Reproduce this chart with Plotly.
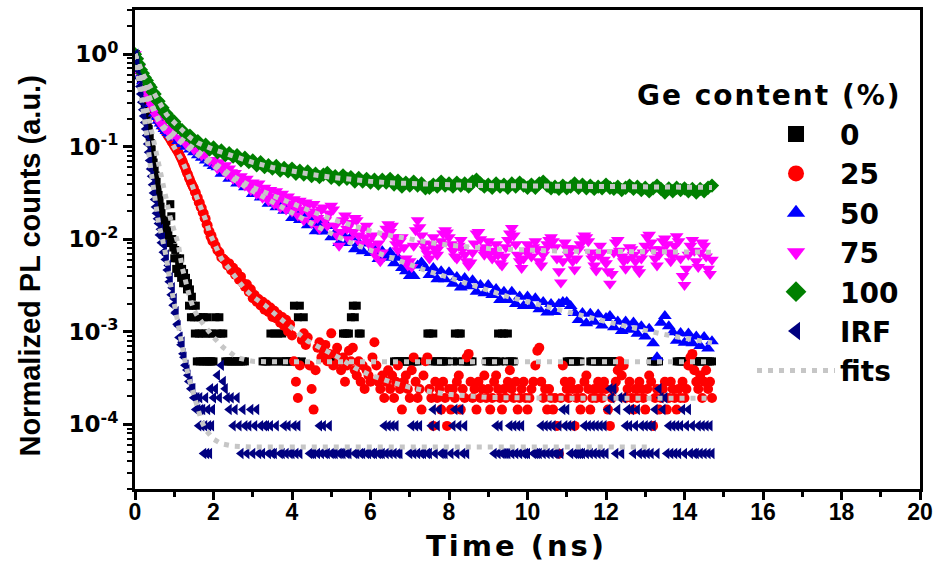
import plotly.graph_objects as go

# ---------------------------------------------------------------------------
# Time bases (ns)
# ---------------------------------------------------------------------------
t_fine = [0.0, 0.025, 0.05, 0.075, 0.1, 0.125, 0.15, 0.175, 0.2, 0.225,
          0.25, 0.275, 0.3, 0.325, 0.35, 0.375, 0.4, 0.425, 0.45, 0.475,
          0.5, 0.525, 0.55, 0.575, 0.6, 0.625, 0.65, 0.675, 0.7, 0.725,
          0.75, 0.775, 0.8, 0.825, 0.85, 0.875, 0.9, 0.925, 0.95, 0.975,
          1.0, 1.025, 1.05, 1.075, 1.1, 1.125, 1.15, 1.175, 1.2, 1.225,
          1.25, 1.275, 1.3, 1.325, 1.35, 1.375, 1.4, 1.425, 1.45, 1.475,
          1.5, 1.525, 1.55, 1.575, 1.6, 1.625, 1.65, 1.675, 1.7, 1.725,
          1.75, 1.775, 1.8, 1.825, 1.85, 1.875, 1.9, 1.925, 1.95, 1.975,
          2.0]
t_coarse = [0.0, 0.05, 0.1, 0.15, 0.2, 0.25, 0.3, 0.35, 0.4, 0.45,
            0.5, 0.55, 0.6, 0.65, 0.7, 0.75, 0.8, 0.85, 0.9, 0.95,
            1.0, 1.1, 1.2, 1.3, 1.4, 1.5, 1.6, 1.7, 1.8, 1.9, 2.0]
t_late = [2.1, 2.2, 2.3, 2.4, 2.5, 2.6, 2.7, 2.8, 2.9, 3.0,
          3.1, 3.2, 3.3, 3.4, 3.5, 3.6, 3.7, 3.8, 3.9, 4.0,
          4.1, 4.2, 4.3, 4.4, 4.5, 4.6, 4.7, 4.8, 4.9, 5.0,
          5.1, 5.2, 5.3, 5.4, 5.5, 5.6, 5.7, 5.8, 5.9, 6.0,
          6.1, 6.2, 6.3, 6.4, 6.5, 6.6, 6.7, 6.8, 6.9, 7.0,
          7.1, 7.2, 7.3, 7.4, 7.5, 7.6, 7.7, 7.8, 7.9, 8.0,
          8.1, 8.2, 8.3, 8.4, 8.5, 8.6, 8.7, 8.8, 8.9, 9.0,
          9.1, 9.2, 9.3, 9.4, 9.5, 9.6, 9.7, 9.8, 9.9, 10.0,
          10.1, 10.2, 10.3, 10.4, 10.5, 10.6, 10.7, 10.8, 10.9, 11.0,
          11.1, 11.2, 11.3, 11.4, 11.5, 11.6, 11.7, 11.8, 11.9, 12.0,
          12.1, 12.2, 12.3, 12.4, 12.5, 12.6, 12.7, 12.8, 12.9, 13.0,
          13.1, 13.2, 13.3, 13.4, 13.5, 13.6, 13.7, 13.8, 13.9, 14.0,
          14.1, 14.2, 14.3, 14.4, 14.5, 14.6, 14.7]
t_late_fine = [
    2.05, 2.1, 2.15, 2.2, 2.25, 2.3, 2.35, 2.4, 2.45, 2.5, 2.55, 2.6, 2.65, 2.7, 2.75, 2.8, 2.85, 2.9, 2.95, 3.0,
    3.05, 3.1, 3.15, 3.2, 3.25, 3.3, 3.35, 3.4, 3.45, 3.5, 3.55, 3.6, 3.65, 3.7, 3.75, 3.8, 3.85, 3.9, 3.95, 4.0,
    4.05, 4.1, 4.15, 4.2, 4.25, 4.3, 4.35, 4.4, 4.45, 4.5, 4.55, 4.6, 4.65, 4.7, 4.75, 4.8, 4.85, 4.9, 4.95, 5.0,
    5.05, 5.1, 5.15, 5.2, 5.25, 5.3, 5.35, 5.4, 5.45, 5.5, 5.55, 5.6, 5.65, 5.7, 5.75, 5.8, 5.85, 5.9, 5.95, 6.0,
    6.05, 6.1, 6.15, 6.2, 6.25, 6.3, 6.35, 6.4, 6.45, 6.5, 6.55, 6.6, 6.65, 6.7, 6.75, 6.8, 6.85, 6.9, 6.95, 7.0,
    7.05, 7.1, 7.15, 7.2, 7.25, 7.3, 7.35, 7.4, 7.45, 7.5, 7.55, 7.6, 7.65, 7.7, 7.75, 7.8, 7.85, 7.9, 7.95, 8.0,
    8.05, 8.1, 8.15, 8.2, 8.25, 8.3, 8.35, 8.4, 8.45, 8.5, 8.55, 8.6, 8.65, 8.7, 8.75, 8.8, 8.85, 8.9, 8.95, 9.0,
    9.05, 9.1, 9.15, 9.2, 9.25, 9.3, 9.35, 9.4, 9.45, 9.5, 9.55, 9.6, 9.65, 9.7, 9.75, 9.8, 9.85, 9.9, 9.95, 10.0,
    10.05, 10.1, 10.15, 10.2, 10.25, 10.3, 10.35, 10.4, 10.45, 10.5, 10.55, 10.6, 10.65, 10.7, 10.75, 10.8, 10.85, 10.9, 10.95, 11.0,
    11.05, 11.1, 11.15, 11.2, 11.25, 11.3, 11.35, 11.4, 11.45, 11.5, 11.55, 11.6, 11.65, 11.7, 11.75, 11.8, 11.85, 11.9, 11.95, 12.0,
    12.05, 12.1, 12.15, 12.2, 12.25, 12.3, 12.35, 12.4, 12.45, 12.5, 12.55, 12.6, 12.65, 12.7, 12.75, 12.8, 12.85, 12.9, 12.95, 13.0,
    13.05, 13.1, 13.15, 13.2, 13.25, 13.3, 13.35, 13.4, 13.45, 13.5, 13.55, 13.6, 13.65, 13.7, 13.75, 13.8, 13.85, 13.9, 13.95, 14.0,
    14.05, 14.1, 14.15, 14.2, 14.25, 14.3, 14.35, 14.4, 14.45, 14.5, 14.55, 14.6, 14.65, 14.7]

time_counts = t_fine + t_late_fine   # 0 %, 25 % and IRF histograms
time_ge75 = t_coarse + t_late_fine   # 75 % decay
time_slow = t_coarse + t_late        # 50 % and 100 % decays

# ---------------------------------------------------------------------------
# Photon counts (0 %, 25 %, IRF) -- normalised to their peak below
# ---------------------------------------------------------------------------
ge0_counts = [
    1940, 2090, 1780, 1585, 1413, 1260, 1097, 955, 832, 725,
    617, 525, 447, 380, 324, 269, 229, 195, 166, 141,
    120, 102, 87, 74, 63, 55, 47, 40, 34, 29,
    25, 30, 33, 26, 23, 19, 50, 37, 21, 17,
    13, 16, 10, 13, 9, 12, 13, 8, 10, 7,
    9, 7, 8, 6, 7, 4, 6, 3, 5, 4,
    3, 2, 4, 1, 3, 2, 1, 3, 2, 1,
    3, 1, 2, 1, 3, 1, 2, 1, 1, 2,
    1,
    3, 2, 3, 2, 2, 1, 1, 1, 1, 1, 1, 1, 1, 1, 1, 1, 0, 0, 0, 0,
    0, 0, 0, 0, 1, 1, 1, 1, 2, 1, 2, 1, 2, 1, 2, 1, 1, 1, 1, 1,
    4, 1, 3, 4, 1, 3, 0, 0, 0, 0, 0, 0, 0, 0, 0, 0, 0, 0, 0, 1,
    1, 1, 1, 1, 0, 2, 2, 2, 2, 3, 4, 3, 4, 2, 2, 0, 0, 0, 0, 0,
    0, 0, 0, 0, 0, 0, 0, 0, 0, 0, 0, 1, 1, 1, 1, 1, 1, 1, 1, 1,
    1, 1, 1, 1, 0, 0, 0, 0, 2, 2, 1, 2, 1, 1, 1, 1, 1, 1, 1, 0,
    0, 1, 2, 1, 2, 2, 1, 1, 1, 1, 1, 1, 0, 0, 0, 0, 0, 0, 1, 1,
    1, 1, 1, 1, 2, 1, 2, 2, 1, 2, 1, 1, 1, 0, 0, 0, 0, 0, 0, 0,
    0, 0, 0, 0, 0, 0, 0, 0, 0, 0, 0, 0, 0, 0, 0, 0, 0, 0, 0, 1,
    1, 1, 1, 1, 1, 1, 1, 0, 0, 0, 0, 1, 1, 1, 1, 1, 1, 1, 1, 1,
    1, 1, 1, 1, 1, 1, 0, 0, 0, 0, 0, 0, 0, 0, 0, 0, 0, 0, 0, 0,
    0, 0, 1, 1, 1, 1, 1, 0, 0, 0, 0, 0, 0, 0, 0, 1, 1, 1, 1, 1,
    1, 1, 1, 1, 1, 1, 1, 1, 1, 1, 1, 1, 1, 1]

ge25_counts = [
    20800, 19340, 17890, 16430, 15390, 14140, 13310, 12270, 11440, 10610,
    9780, 9150, 8530, 7900, 7280, 6660, 6240, 5820, 5530, 5200,
    4890, 4660, 4390, 4160, 3950, 3790, 3660, 3490, 3370, 3270,
    3140, 3040, 2930, 2810, 2700, 2620, 2500, 2390, 2310, 2230,
    2120, 2060, 1960, 1890, 1810, 1730, 1640, 1560, 1480, 1390,
    1310, 1250, 1160, 1080, 1040, 957, 915, 853, 811, 770,
    740, 672, 660, 590, 585, 520, 515, 462, 452, 405,
    396, 350, 345, 300, 295, 256, 250, 222, 226, 198,
    199,
    178, 158, 150, 132, 128, 122, 108, 114, 96, 102, 86, 92, 76, 82, 70, 64, 68, 56, 60, 48,
    52, 44, 47, 40, 44, 36, 41, 34, 38, 30, 35, 29, 32, 26, 30, 24, 28, 21, 25, 19,
    10, 6, 4, 9, 17, 20, 15, 18, 9, 5, 3, 8, 14, 16, 11, 13, 15, 10, 12, 20,
    9, 12, 14, 10, 8, 11, 6, 9, 13, 10, 14, 8, 7, 10, 6, 9, 5, 8, 7, 6,
    11, 16, 9, 6, 5, 7, 4, 6, 8, 5, 7, 4, 6, 9, 5, 3, 6, 7, 5, 4,
    8, 11, 6, 4, 5, 3, 7, 10, 11, 5, 4, 2, 6, 4, 5, 3, 6, 4, 2, 5,
    3, 5, 4, 6, 7, 3, 5, 4, 11, 12, 6, 4, 5, 3, 6, 4, 5, 7, 4, 5,
    3, 4, 6, 7, 5, 4, 3, 5, 4, 6, 8, 5, 4, 6, 3, 4, 5, 6, 4, 3,
    4, 5, 6, 9, 13, 14, 6, 4, 5, 3, 5, 4, 3, 4, 2, 1, 4, 9, 6, 5,
    4, 6, 5, 2, 4, 5, 3, 4, 6, 7, 5, 3, 4, 5, 4, 6, 5, 4, 6, 5,
    3, 2, 4, 5, 6, 8, 10, 7, 9, 4, 5, 6, 4, 3, 5, 4, 6, 5, 4, 3,
    5, 7, 6, 2, 4, 5, 3, 4, 5, 6, 3, 4, 6, 5, 4, 3, 5, 4, 6, 4,
    5, 9, 11, 12, 8, 6, 5, 7, 4, 6, 8, 5, 6, 4]

irf_counts = [
    18030, 20700, 17220, 14000, 11380, 9250, 7700, 6250, 5200, 4430,
    3770, 3210, 2730, 2220, 1800, 1470, 1190, 990, 805, 655,
    557, 463, 395, 344, 306, 230, 265, 190, 215, 150,
    178, 125, 140, 96, 108, 72, 80, 52, 62, 40,
    47, 33, 34, 25, 24, 18, 18, 15, 16, 12,
    11, 9, 9, 8, 7, 6, 6, 5, 5, 5,
    4, 4, 3, 4, 3, 2, 4, 3, 2, 3,
    1, 2, 4, 1, 3, 2, 1, 5, 2, 3,
    4,
    5, 7, 4, 9, 6, 5, 4, 3, 4, 2, 3, 4, 2, 1, 3, 2, 1, 2, 3, 1,
    2, 3, 1, 2, 1, 2, 2, 1, 2, 1, 1, 2, 0, 1, 1, 2, 1, 2, 1, 1,
    2, 1, 2, 1, 0, 0, 0, 0, 1, 1, 1, 0, 1, 2, 1, 2, 1, 1, 2, 1,
    1, 1, 0, 1, 1, 1, 0, 1, 1, 0, 0, 1, 1, 0, 1, 1, 0, 1, 1, 0,
    1, 1, 0, 1, 1, 1, 2, 1, 2, 1, 2, 1, 2, 1, 1, 0, 0, 0, 0, 1,
    2, 1, 2, 1, 2, 1, 1, 0, 1, 1, 2, 3, 1, 2, 3, 1, 1, 1, 0, 0,
    1, 2, 3, 1, 2, 3, 1, 2, 1, 0, 0, 0, 0, 0, 0, 0, 0, 0, 0, 0,
    0, 0, 1, 2, 1, 2, 1, 1, 1, 1, 2, 1, 2, 1, 2, 1, 2, 1, 1, 1,
    0, 0, 1, 1, 1, 1, 2, 1, 2, 1, 2, 1, 2, 1, 1, 2, 1, 3, 2, 3,
    2, 1, 2, 1, 1, 1, 1, 1, 2, 1, 2, 1, 2, 1, 2, 1, 2, 1, 2, 1,
    3, 5, 4, 5, 1, 3, 4, 1, 4, 2, 3, 2, 3, 1, 2, 3, 1, 2, 1, 2,
    1, 2, 1, 2, 3, 1, 5, 4, 3, 4, 1, 2, 1, 2, 1, 2, 1, 2, 3, 1,
    2, 3, 1, 2, 1, 1, 2, 1, 2, 1, 2, 1, 2, 1]

# ---------------------------------------------------------------------------
# Normalised decays (50 %, 75 %, 100 %)
# ---------------------------------------------------------------------------
ge50_norm = [
    1.0, 0.83, 0.71, 0.60, 0.51, 0.44, 0.38, 0.33, 0.29, 0.257,
    0.229, 0.209, 0.191, 0.178, 0.166, 0.155, 0.148, 0.141, 0.135, 0.129,
    0.126, 0.115, 0.107, 0.100, 0.093, 0.087, 0.081, 0.076, 0.071, 0.066,
    0.062,
    0.060, 0.051, 0.052, 0.045, 0.047, 0.040, 0.0425, 0.0365, 0.0368, 0.0309,
    0.0336, 0.0283, 0.0308, 0.0242, 0.0263, 0.0222, 0.0252, 0.0203, 0.0216, 0.0170,
    0.0199, 0.0161, 0.0188, 0.0142, 0.0155, 0.0122, 0.0150, 0.0121, 0.0139, 0.0105,
    0.0117, 0.0091, 0.0112, 0.0091, 0.0105, 0.0078, 0.0091, 0.0074, 0.0090, 0.0071,
    0.0082, 0.0061, 0.0074, 0.0063, 0.0072, 0.0055, 0.0063, 0.0049, 0.0045, 0.0040,
    0.0040, 0.0052, 0.0056, 0.0049, 0.0041, 0.0049, 0.0037, 0.0045, 0.0037, 0.0044,
    0.0033, 0.0039, 0.0030, 0.0038, 0.0031, 0.0036, 0.0027, 0.0032, 0.0026, 0.0032,
    0.0025, 0.0029, 0.0022, 0.0027, 0.0022, 0.0027, 0.0020, 0.0024, 0.0019, 0.0024,
    0.0019, 0.0023, 0.00175, 0.0021, 0.00162, 0.0020, 0.00164, 0.0020, 0.0021, 0.0021,
    0.0019, 0.0016, 0.00134, 0.0016, 0.00124, 0.00157, 0.00128, 0.00154, 0.00117, 0.00141,
    0.00148, 0.00112, 0.00129, 0.00102, 0.00129, 0.00105, 0.00126, 0.00095, 0.00115, 0.00089,
    0.00108, 0.00075, 0.00053, 0.00125, 0.00148, 0.00115, 0.00099, 0.00080, 0.00097, 0.00076,
    0.00096, 0.00075, 0.00089, 0.00070, 0.00088, 0.00066, 0.00079]

ge75_norm = [
    1.0, 0.85, 0.71, 0.60, 0.51, 0.45, 0.39, 0.34, 0.30, 0.27,
    0.245, 0.214, 0.20, 0.178, 0.174, 0.158, 0.158, 0.145, 0.148, 0.135,
    0.141, 0.123, 0.120, 0.107, 0.107, 0.093, 0.093, 0.081, 0.083, 0.071,
    0.072,
    0.066, 0.058, 0.068, 0.062, 0.055, 0.063, 0.050, 0.058, 0.053, 0.045,
    0.052, 0.047, 0.041, 0.048, 0.043, 0.038, 0.045, 0.040, 0.034, 0.041,
    0.036, 0.031, 0.040, 0.033, 0.028, 0.036, 0.030, 0.026, 0.034, 0.029,
    0.024, 0.033, 0.027, 0.022, 0.031, 0.026, 0.021, 0.029, 0.024, 0.020,
    0.027, 0.022, 0.018, 0.026, 0.021, 0.016, 0.025, 0.023, 0.019, 0.015,
    0.024, 0.020, 0.017, 0.013, 0.021, 0.022, 0.016, 0.014, 0.019, 0.023,
    0.021, 0.014, 0.011, 0.0085, 0.012, 0.016, 0.018, 0.013, 0.010, 0.015,
    0.012, 0.017, 0.016, 0.011, 0.009, 0.013, 0.0105, 0.014, 0.0095, 0.0085,
    0.011, 0.0075, 0.0065, 0.009, 0.0058, 0.0072, 0.011, 0.013, 0.0145, 0.012,
    0.014, 0.0105, 0.0088, 0.0076, 0.0095, 0.0105, 0.0082, 0.0062, 0.0052, 0.0058,
    0.0050, 0.0085, 0.0125, 0.016, 0.0135, 0.011, 0.009, 0.0078, 0.007, 0.0062,
    0.0088, 0.0105, 0.0078, 0.0068, 0.0082, 0.0095, 0.0115, 0.0125, 0.0118, 0.0105,
    0.0088, 0.0075, 0.0065, 0.0062, 0.0085, 0.0098, 0.0078, 0.0068, 0.0058, 0.0052,
    0.0056, 0.0072, 0.0090, 0.0115, 0.012, 0.010, 0.0078, 0.0068, 0.0082, 0.0095,
    0.0072, 0.0062, 0.0075, 0.0088, 0.0068, 0.0055, 0.0052, 0.0065, 0.0082, 0.0098,
    0.0115, 0.0132, 0.011, 0.0088, 0.0068, 0.0058, 0.0049, 0.0062, 0.0075, 0.0088,
    0.0075, 0.0065, 0.0082, 0.0095, 0.0078, 0.0058, 0.0052, 0.0068, 0.0078, 0.0088,
    0.0098, 0.0105, 0.0095, 0.0082, 0.0062, 0.0045, 0.0034, 0.0058, 0.0092, 0.0080,
    0.0068, 0.0080, 0.0058, 0.0047, 0.0062, 0.0078, 0.0088, 0.0102, 0.0110, 0.0105,
    0.0095, 0.0072, 0.0062, 0.0052, 0.0046, 0.0068, 0.0085, 0.0072, 0.0060, 0.0055,
    0.0045, 0.0033, 0.0042, 0.0072, 0.0092, 0.0098, 0.0075, 0.0065, 0.0058, 0.0048,
    0.0062, 0.0082, 0.0078, 0.0068, 0.0058, 0.0048, 0.0044, 0.0062, 0.0072, 0.0085,
    0.0105, 0.0112, 0.0092, 0.0078, 0.0062, 0.0052, 0.0068, 0.0078, 0.0095, 0.0102,
    0.0088, 0.0072, 0.0058, 0.0066, 0.0085, 0.0108, 0.0095, 0.0062, 0.0040, 0.0032,
    0.0048, 0.0068, 0.0085, 0.0098, 0.0075, 0.0058, 0.0050, 0.0072, 0.0092, 0.0085,
    0.0065, 0.0048, 0.0042, 0.0060]

ge100_norm = [
    1.0, 0.89, 0.78, 0.68, 0.62, 0.56, 0.52, 0.47, 0.44, 0.39,
    0.37, 0.32, 0.31, 0.275, 0.263, 0.234, 0.229, 0.209, 0.204, 0.186,
    0.186, 0.162, 0.151, 0.135, 0.132, 0.115, 0.115, 0.102, 0.105, 0.093,
    0.098,
    0.087, 0.091, 0.081, 0.085, 0.078, 0.081, 0.071, 0.076, 0.068, 0.071,
    0.063, 0.068, 0.060, 0.063, 0.058, 0.062, 0.055, 0.059, 0.054, 0.058,
    0.051, 0.055, 0.050, 0.054, 0.048, 0.051, 0.047, 0.050, 0.052, 0.046,
    0.048, 0.044, 0.049, 0.045, 0.047, 0.042, 0.046, 0.042, 0.045, 0.041,
    0.044, 0.040, 0.044, 0.041, 0.045, 0.039, 0.043, 0.037, 0.041, 0.038,
    0.042, 0.038, 0.040, 0.0355, 0.036, 0.039, 0.037, 0.042, 0.038, 0.040,
    0.037, 0.041, 0.038, 0.040, 0.037, 0.042, 0.044, 0.040, 0.037, 0.039,
    0.036, 0.040, 0.037, 0.039, 0.036, 0.040, 0.037, 0.041, 0.038, 0.036,
    0.039, 0.036, 0.040, 0.042, 0.038, 0.0355, 0.037, 0.035, 0.038, 0.0355,
    0.037, 0.040, 0.036, 0.039, 0.0355, 0.038, 0.035, 0.037, 0.0355, 0.039,
    0.036, 0.035, 0.037, 0.034, 0.036, 0.038, 0.035, 0.037, 0.034, 0.036,
    0.033, 0.0355, 0.038, 0.035, 0.032, 0.0355, 0.033, 0.036, 0.034, 0.0355,
    0.033, 0.035, 0.032, 0.035, 0.033, 0.036, 0.038]

# ---------------------------------------------------------------------------
# Fitted curves
# ---------------------------------------------------------------------------
fit_t_slow = [0.0, 0.1, 0.2, 0.3, 0.4, 0.5, 0.6, 0.7, 0.8, 0.9,
              1.0, 1.2, 1.4, 1.6, 1.8, 2.0, 2.5, 3.0, 3.5, 4.0,
              4.5, 5.0, 5.5, 6.0, 6.5, 7.0, 7.5, 8.0, 8.5, 9.0,
              9.5, 10.0, 10.5, 11.0, 11.5, 12.0, 12.5, 13.0, 13.5, 14.0,
              14.7]
fit_ge100 = [1.0, 0.759, 0.61, 0.513, 0.437, 0.363, 0.302, 0.257, 0.224, 0.2,
             0.182, 0.146, 0.126, 0.11, 0.1, 0.0933, 0.0794, 0.0676, 0.0596, 0.0543,
             0.0501, 0.0468, 0.0442, 0.0422, 0.0407, 0.0398, 0.0389, 0.0385, 0.0382, 0.038,
             0.0378, 0.0376, 0.0374, 0.0372, 0.0372, 0.0372, 0.037, 0.0367, 0.0366, 0.0363,
             0.0363]
fit_ge75 = [1.0, 0.708, 0.513, 0.389, 0.302, 0.24, 0.195, 0.17, 0.155, 0.145,
            0.138, 0.117, 0.102, 0.0891, 0.0776, 0.0676, 0.0479, 0.0363, 0.0295, 0.024,
            0.02, 0.0166, 0.0141, 0.0123, 0.011, 0.01, 0.00923, 0.00861, 0.00822, 0.00794,
            0.00776, 0.00759, 0.0075, 0.00741, 0.00741, 0.00741, 0.00738, 0.00733, 0.0073, 0.00724,
            0.00724]
fit_ge50 = [1.0, 0.708, 0.513, 0.38, 0.288, 0.229, 0.191, 0.166, 0.148, 0.135,
            0.126, 0.107, 0.0933, 0.0813, 0.0708, 0.0617, 0.0447, 0.0331, 0.0251, 0.0191,
            0.0148, 0.0115, 0.00912, 0.00759, 0.00631, 0.00525, 0.00447, 0.00385, 0.00327, 0.00279,
            0.0024, 0.00211, 0.00186, 0.00162, 0.00143, 0.00129, 0.00115, 0.00102, 0.000933, 0.000851,
            0.000759]

fit_t_ge25 = [0.0, 0.1, 0.2, 0.3, 0.4, 0.5, 0.6, 0.7, 0.8, 0.9,
              1.0, 1.1, 1.2, 1.3, 1.4, 1.5, 1.6, 1.7, 1.8, 1.9,
              2.0, 2.2, 2.4, 2.6, 2.8, 3.0, 3.3, 3.6, 4.0, 4.4,
              4.8, 5.2, 5.6, 6.0, 6.5, 7.0, 7.5, 8.0, 9.0, 10.0,
              11.0, 12.0, 13.0, 14.0, 14.6]
fit_ge25 = [1.0, 0.741, 0.55, 0.407, 0.302, 0.234, 0.191, 0.162, 0.141, 0.12,
            0.102, 0.0871, 0.0708, 0.0562, 0.0437, 0.0347, 0.0275, 0.0214, 0.0162, 0.0117,
            0.00933, 0.00617, 0.00479, 0.00372, 0.00288, 0.0024, 0.00195, 0.00151, 0.0011, 0.000794,
            0.000646, 0.000525, 0.000407, 0.000339, 0.000288, 0.000251, 0.000226, 0.000211, 0.000195, 0.000191,
            0.000191, 0.000191, 0.000191, 0.000191, 0.000191]

fit_t_ge0 = [0.0, 0.1, 0.2, 0.3, 0.4, 0.5, 0.6, 0.7, 0.8, 0.9,
             1.0, 1.1, 1.2, 1.3, 1.4, 1.5, 1.6, 1.8, 2.0, 2.25,
             2.6, 3.0, 3.5, 14.7]
fit_ge0 = [1.0, 0.631, 0.38, 0.24, 0.151, 0.0933, 0.0631, 0.0398, 0.0251, 0.017,
           0.0123, 0.00891, 0.00501, 0.00316, 0.00229, 0.00174, 0.00145, 0.00112, 0.000871, 0.000676,
           0.000525, 0.000479, 0.000473, 0.000473]

fit_t_irf = [0.0, 0.1, 0.2, 0.3, 0.4, 0.5, 0.6, 0.7, 0.8, 0.9,
             1.0, 1.1, 1.2, 1.3, 1.4, 1.5, 1.6, 1.7, 1.8, 1.9,
             2.0, 2.2, 2.5, 3.0, 13.15]
fit_irf = [1.0, 0.525, 0.251, 0.132, 0.0575, 0.0269, 0.0148, 0.01, 0.0063, 0.00339,
           0.002, 0.0011, 0.000676, 0.000427, 0.000288, 0.0002, 0.000145, 0.000107, 8.71e-5, 7.59e-5,
           6.92e-5, 6.17e-5, 5.82e-5, 5.69e-5, 5.69e-5]

# Axis ticks
x_tick_vals = [0, 2, 4, 6, 8, 10, 12, 14, 16, 18, 20]
x_minor_vals = [1, 3, 5, 7, 9, 11, 13, 15, 17, 19]
y_tick_vals = [1e-4, 1e-3, 1e-2, 1e-1, 1.0]
y_tick_text = ["10<sup>-4</sup>", "10<sup>-3</sup>", "10<sup>-2</sup>",
               "10<sup>-1</sup>", "10<sup>0</sup>"]
y_minor_vals = [m * 10.0 ** e for e in range(-5, 1) for m in range(2, 10)]


def normalise(counts):
    """Scale a photon-count histogram to its peak; empty bins are not drawn."""
    peak = max(counts)
    return [c / peak if c > 0 else None for c in counts]


for label, xs, ys in [("0", time_counts, ge0_counts), ("25", time_counts, ge25_counts),
                      ("IRF", time_counts, irf_counts), ("50", time_slow, ge50_norm),
                      ("75", time_ge75, ge75_norm), ("100", time_slow, ge100_norm)]:
    assert len(xs) == len(ys), (label, len(xs), len(ys))

series = [
    # name, x, y, symbol, size, colour
    ("0", time_counts, normalise(ge0_counts), "square", 8, "#000000"),
    ("25", time_counts, normalise(ge25_counts), "circle", 10, "#ff0000"),
    ("50", time_slow, ge50_norm, "triangle-up", 12, "#0000ff"),
    ("75", time_ge75, ge75_norm, "triangle-down", 12, "#ff00ff"),
    ("100", time_slow, ge100_norm, "diamond", 11, "#008000"),
    ("IRF", time_counts, normalise(irf_counts), "triangle-left", 10, "#000080"),
]

fits = [
    (fit_t_ge0, fit_ge0),
    (fit_t_ge25, fit_ge25),
    (fit_t_slow, fit_ge50),
    (fit_t_slow, fit_ge75),
    (fit_t_slow, fit_ge100),
    (fit_t_irf, fit_irf),
]

FIT_GREY = "#c6c6c6"

fig = go.Figure()

for name, xs, ys, sym, size, col in series:
    fig.add_trace(go.Scatter(
        x=xs, y=ys, mode="markers", name=name, showlegend=False,
        marker=dict(symbol=sym, size=size, color=col, line=dict(width=0)),
    ))

for i, (xs, ys) in enumerate(fits):
    fig.add_trace(go.Scatter(
        x=xs, y=ys, mode="lines", name="fits",
        showlegend=(i == 0), legendrank=7,
        line=dict(color=FIT_GREY, width=5, dash="5px,6px"),
    ))

# legend entries with larger symbols
for rank, (name, xs, ys, sym, size, col) in enumerate(series, start=1):
    fig.add_trace(go.Scatter(
        x=[None], y=[None], mode="markers", name=name, legendrank=rank,
        marker=dict(symbol=sym, size=16, color=col, line=dict(width=0)),
    ))

BOLD_WIDE = dict(family="DejaVu Sans", color="black", weight="bold")
BOLD_ARIAL = dict(family="Liberation Sans", color="black", weight="bold")

fig.update_layout(
    width=940, height=567,
    margin=dict(l=135, r=19, t=7, b=78),
    paper_bgcolor="white", plot_bgcolor="white",
    legend=dict(
        x=0.786, y=0.7926, xanchor="left", yanchor="top",
        font=dict(size=28, **BOLD_WIDE),
        itemwidth=78, bgcolor="rgba(0,0,0,0)", borderwidth=0,
        traceorder="normal",
    ),
    xaxis=dict(
        range=[0, 20], tickmode="array", tickvals=x_tick_vals,
        ticks="outside", ticklen=8, tickwidth=2.5, tickcolor="black",
        minor=dict(tickvals=x_minor_vals, ticks="outside",
                   ticklen=5, tickwidth=2.5, tickcolor="black"),
        showline=True, linewidth=3, linecolor="black", mirror=True,
        showgrid=False, zeroline=False,
        tickfont=dict(size=23, **BOLD_ARIAL), ticklabelstandoff=-8,
    ),
    yaxis=dict(
        type="log", range=[-4.69897, 0.47712],
        tickmode="array", tickvals=y_tick_vals, ticktext=y_tick_text,
        ticks="outside", ticklen=9, tickwidth=2.5, tickcolor="black",
        minor=dict(tickvals=y_minor_vals, ticks="outside", ticklen=5,
                   tickwidth=2, tickcolor="black"),
        showline=True, linewidth=3, linecolor="black", mirror=True,
        showgrid=False, zeroline=False,
        tickfont=dict(size=23, **BOLD_WIDE),
    ),
    annotations=[
        dict(text='<span style="letter-spacing:3px">Time (ns)</span>',
             xref="paper", yref="paper", x=0.486, y=-0.1183,
             xanchor="center", yanchor="middle", showarrow=False,
             font=dict(size=29, **BOLD_WIDE)),
        dict(text="Normalized PL counts (a.u.)", textangle=-90,
             xref="paper", yref="paper", x=-0.1336, y=0.4647,
             xanchor="center", yanchor="middle", showarrow=False,
             font=dict(size=29, **BOLD_ARIAL)),
        dict(text='<span style="letter-spacing:2px">Ge content (%)</span>',
             xref="paper", yref="paper", x=0.9796, y=0.8216,
             xanchor="right", yanchor="middle", showarrow=False,
             font=dict(size=28, **BOLD_WIDE)),
    ],
)

fig.write_html("out.html")
